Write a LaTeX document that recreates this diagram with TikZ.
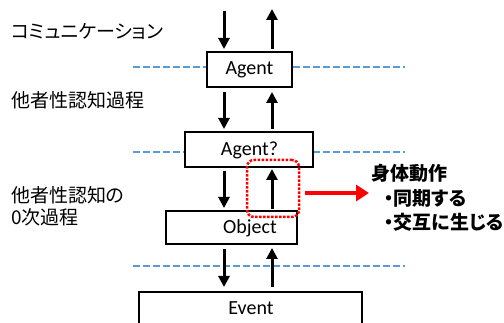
\documentclass[tikz,border=0pt]{standalone}
\usepackage{fontspec}
\setmainfont{Carlito}
\newfontfamily\jp[RawFeature=+palt]{Noto Sans CJK JP}
\usetikzlibrary{arrows.meta}
\definecolor{dashblue}{HTML}{5B9BD5}
\definecolor{hotred}{HTML}{FF0000}
\tikzset{
  box/.style={draw=black, line width=2pt, fill=white, inner sep=0pt},
  boxtext/.style={font=\fontsize{20}{22}\selectfont, inner sep=0pt, anchor=center},
  sep/.style={draw=dashblue, line width=2.5pt, dash pattern=on 7pt off 3pt},
  flow/.style={draw=black, line width=3pt, -{Triangle[width=11pt,length=11pt]}},
  jplabel/.style={font=\jp\fontsize{19}{22}\selectfont, inner sep=0pt, anchor=west},
  jpbold/.style={font=\jp\bfseries\fontsize{19}{22}\selectfont, inner sep=0pt, anchor=west},
}
\begin{document}
\begin{tikzpicture}[x=1pt,y=-1pt]
\useasboundingbox (0,0) rectangle (504,323);
% separators
\coordinate (s1a) at (133,67);  \coordinate (s1b) at (405,67);
\coordinate (s2a) at (133,152); \coordinate (s2b) at (405,152);
\coordinate (s3a) at (133,266); \coordinate (s3b) at (405,266);
\draw[sep] (s1a) -- (s1b);
\draw[sep] (s2a) -- (s2b);
\draw[sep] (s3a) -- (s3b);
% boxes
\node[box, minimum width=85pt, minimum height=35pt] (agent) at (249.5,69.5) {};
\node[boxtext] (agentT) at (249.5,70) {Agent};
\node[box, minimum width=128pt, minimum height=35pt] (agentq) at (249,149.5) {};
\node[boxtext] (agentqT) at (249.5,150) {Agent?};
\node[box, minimum width=131pt, minimum height=33pt] (object) at (231.5,227.5) {};
\node[boxtext] (objectT) at (250,228) {Object};
\node[box, minimum width=223pt, minimum height=60pt] (event) at (250.5,322) {};
\node[boxtext] (eventT) at (251,308) {Event};
% arrow end points
\coordinate (a1s) at (224,11);  \coordinate (a1e) at (224,49);
\coordinate (b1s) at (272,49);  \coordinate (b1e) at (272,9);
\coordinate (a2s) at (224,92);  \coordinate (a2e) at (224,129);
\coordinate (b2s) at (272,129); \coordinate (b2e) at (272,92);
\coordinate (a3s) at (224,171); \coordinate (a3e) at (224,208);
\coordinate (b3s) at (272,209); \coordinate (b3e) at (272,169);
\coordinate (a4s) at (224,249); \coordinate (a4e) at (224,287);
\coordinate (b4s) at (272,287); \coordinate (b4e) at (272,248);
\draw[flow] (a1s) -- (a1e);
\draw[flow] (b1s) -- (b1e);
\draw[flow] (a2s) -- (a2e);
\draw[flow] (b2s) -- (b2e);
\draw[flow] (a3s) -- (a3e);
\draw[flow] (b3s) -- (b3e);
\draw[flow] (a4s) -- (a4e);
\draw[flow] (b4s) -- (b4e);
% red highlight
\node[draw=hotred, line width=2.5pt, dash pattern=on 2.5pt off 1.5pt, rounded corners=7pt,
      minimum width=52pt, minimum height=57pt, inner sep=0pt] (hl) at (273,188.5) {};
\coordinate (ra) at (305,193);
\coordinate (rb) at (369,193);
\draw[draw=hotred, line width=4pt, -{Triangle[width=16pt,length=13pt]}] (ra) -- (rb);
% labels
\node[jplabel] (l1) at (11,32) {コミュニケーション};
\node[jplabel] (l2) at (11,100) {他者性認知過程};
\node[jplabel] (l3) at (11,195.5) {他者性認知の};
\node[jplabel] (l4) at (11,217.5) {0次過程};
\node[jpbold] (r1) at (371,173) {身体動作};
\node[jpbold] (r2) at (384,198) {・同期する};
\node[jpbold] (r3) at (384,222) {・交互に生じる};
\end{tikzpicture}
\end{document}
